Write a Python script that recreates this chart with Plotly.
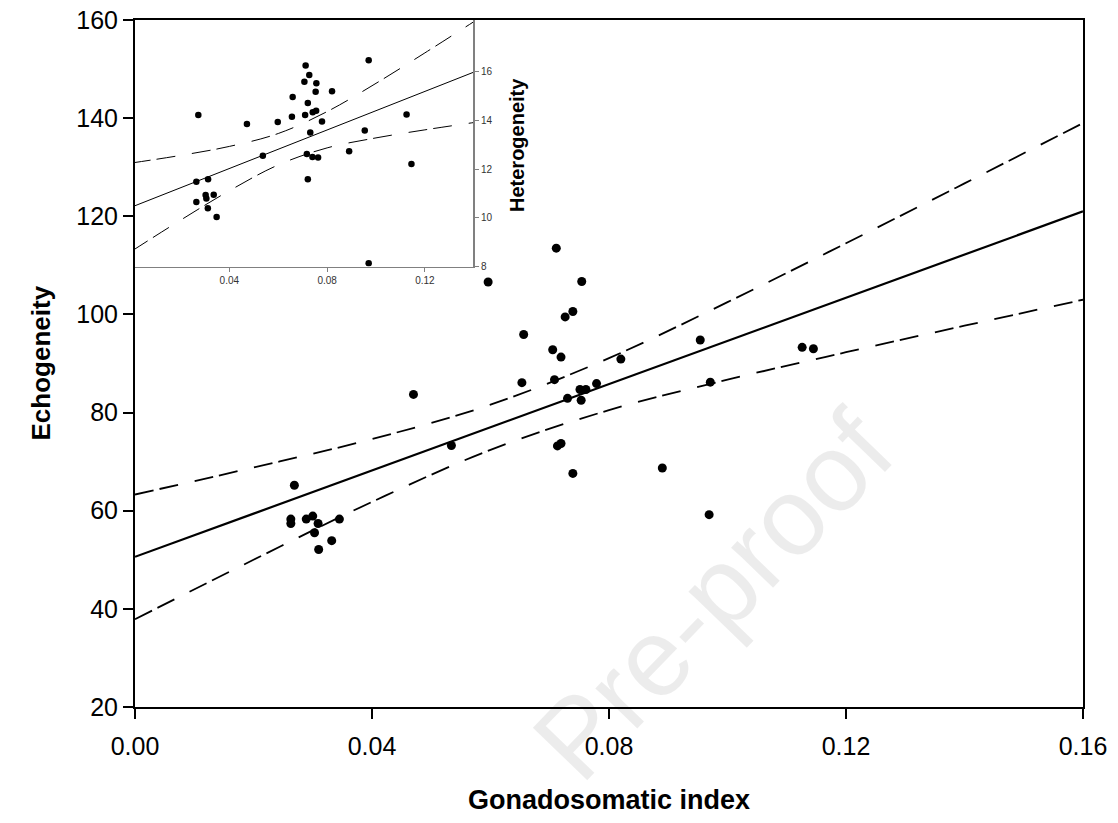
import plotly.graph_objects as go

# ---------------- main panel data ----------------
gsi = [0.0269, 0.0263, 0.0263, 0.0289, 0.0300, 0.0309, 0.0345, 0.0303, 0.0332, 0.0310,
       0.0470, 0.0534, 0.0596, 0.0656, 0.0653, 0.0705, 0.0708, 0.0719, 0.0726, 0.0739,
       0.0754, 0.0730, 0.0751, 0.0761, 0.0779, 0.0753, 0.0713, 0.0719, 0.0739, 0.0820,
       0.0890, 0.0954, 0.0971, 0.0969, 0.1126, 0.1145, 0.0711]
echogeneity = [65.2, 58.3, 57.4, 58.3, 58.9, 57.4, 58.3, 55.5, 53.9, 52.1,
               83.7, 73.3, 106.6, 95.9, 86.1, 92.8, 86.7, 91.3, 99.5, 100.6,
               106.7, 82.9, 84.7, 84.7, 85.9, 82.5, 73.2, 73.7, 67.6, 90.9,
               68.7, 94.8, 86.2, 59.2, 93.3, 93.0, 113.5]

fit_x = [0.0, 0.16]
echo_fit = [50.6, 121.0]
ci_x = [0.0, 0.02, 0.04, 0.06, 0.08, 0.10, 0.12, 0.14, 0.16]
echo_upper = [63.3, 68.8, 74.6, 81.6, 91.1, 102.5, 114.5, 126.7, 139.0]
echo_lower = [37.9, 50.0, 61.8, 72.4, 80.5, 86.7, 92.3, 97.7, 103.0]

# ---------------- inset data ----------------
gsi_inset = [0.0273, 0.0472, 0.0598, 0.0656, 0.0659, 0.0707, 0.0712, 0.0727, 0.0756, 0.0753,
             0.0721, 0.0710, 0.0741, 0.0755, 0.0779, 0.0731, 0.0820, 0.0970, 0.0954, 0.1125,
             0.1145, 0.0890, 0.0717, 0.0740, 0.0763, 0.0721, 0.0537, 0.0265, 0.0313, 0.0303,
             0.0306, 0.0336, 0.0265, 0.0312, 0.0348, 0.0970]
heterogeneity = [14.22, 13.85, 13.93, 14.15, 14.96, 15.59, 16.25, 15.86, 15.52, 15.17,
                 14.71, 14.22, 14.33, 14.39, 13.95, 13.50, 15.19, 16.47, 13.58, 14.24,
                 12.21, 12.73, 12.62, 12.50, 12.47, 11.58, 12.55, 11.48, 11.58, 10.94,
                 10.79, 10.95, 10.65, 10.39, 10.03, 8.13]

het_fit_x = [0.0, 0.14]
het_fit = [10.44, 15.98]
het_ci_x = [0.0, 0.02, 0.04, 0.06, 0.08, 0.10, 0.12, 0.14]
het_upper = [12.25, 12.56, 12.93, 13.46, 14.36, 15.52, 16.77, 18.05]
het_lower = [8.63, 9.90, 11.11, 12.17, 12.87, 13.28, 13.61, 13.91]

main_xticks = [0.0, 0.04, 0.08, 0.12, 0.16]
main_yticks = [20, 40, 60, 80, 100, 120, 140, 160]
inset_xticks = [0.04, 0.08, 0.12]
inset_yticks = [8, 10, 12, 14, 16]

FONT = "Arial, Liberation Sans, sans-serif"
DASH = "19px,6px,19px,17px"

W, H = 1118, 823
L, R, T, B = 135, 35, 20, 116
PW, PH = W - L - R, H - T - B  # 948 x 687

fig = go.Figure()

# main panel
fig.add_trace(go.Scatter(x=ci_x, y=echo_upper, mode="lines", line_shape="spline",
                         line=dict(color="black", width=1.8, dash=DASH), showlegend=False,
                         xaxis="x", yaxis="y"))
fig.add_trace(go.Scatter(x=ci_x, y=echo_lower, mode="lines", line_shape="spline",
                         line=dict(color="black", width=1.8, dash=DASH), showlegend=False,
                         xaxis="x", yaxis="y"))
fig.add_trace(go.Scatter(x=fit_x, y=echo_fit, mode="lines",
                         line=dict(color="black", width=2.2), showlegend=False,
                         xaxis="x", yaxis="y"))
fig.add_trace(go.Scatter(x=gsi, y=echogeneity, mode="markers",
                         marker=dict(color="black", size=9), showlegend=False,
                         xaxis="x", yaxis="y"))

# inset
fig.add_trace(go.Scatter(x=het_ci_x, y=het_upper, mode="lines", line_shape="spline",
                         line=dict(color="black", width=1, dash=DASH), showlegend=False,
                         xaxis="x2", yaxis="y2"))
fig.add_trace(go.Scatter(x=het_ci_x, y=het_lower, mode="lines", line_shape="spline",
                         line=dict(color="black", width=1, dash=DASH), showlegend=False,
                         xaxis="x2", yaxis="y2"))
fig.add_trace(go.Scatter(x=het_fit_x, y=het_fit, mode="lines",
                         line=dict(color="black", width=1), showlegend=False,
                         xaxis="x2", yaxis="y2"))
fig.add_trace(go.Scatter(x=gsi_inset, y=heterogeneity, mode="markers",
                         marker=dict(color="black", size=6.5), showlegend=False,
                         xaxis="x2", yaxis="y2"))


def px_x(px):
    return (px - 135) / PW


def px_y(py):
    return 1 - (py - 20) / PH


inset_bottom = px_y(266.5)
inset_right = px_x(473.3)

fig.update_layout(
    width=W, height=H,
    margin=dict(l=L, r=R, t=T, b=B, autoexpand=False),
    paper_bgcolor="white", plot_bgcolor="white",
    font=dict(family=FONT, color="black"),
    xaxis=dict(domain=[0, 1], range=[0, 0.16], tickvals=main_xticks, tickformat=".2f",
               showline=True, linecolor="black", linewidth=2, mirror=True,
               ticks="outside", ticklen=10, tickwidth=1.5, tickcolor="black",
               tickfont=dict(size=25, family=FONT), showgrid=False, zeroline=False,
               ticklabelstandoff=6, automargin=False, ticklabeloverflow="allow"),
    yaxis=dict(domain=[0, 1], range=[20, 160], tickvals=main_yticks,
               showline=True, linecolor="black", linewidth=2, mirror=True,
               ticks="outside", ticklen=10, tickwidth=1.5, tickcolor="black",
               tickfont=dict(size=25, family=FONT), showgrid=False, zeroline=False,
               automargin=False, ticklabeloverflow="allow"),
    xaxis2=dict(domain=[0, inset_right], anchor="y2", range=[0.0014, 0.1398],
                tickvals=inset_xticks, ticktext=["0.04", "0.08", "0.12"],
                showline=True, linecolor="#808080", linewidth=1.2,
                ticks="outside", ticklen=4, tickwidth=1, tickcolor="#808080",
                tickfont=dict(size=10, color="#333333", family=FONT),
                showgrid=False, zeroline=False, automargin=False),
    yaxis2=dict(domain=[inset_bottom, 1], anchor="x2", side="right",
                range=[8, 18.12], tickvals=inset_yticks,
                showline=True, linecolor="#808080", linewidth=1.5,
                ticks="outside", ticklen=4, tickwidth=1, tickcolor="#808080",
                tickfont=dict(size=10, color="#333333", family=FONT),
                showgrid=False, zeroline=False, automargin=False),
    annotations=[
        dict(text="Pre-proof", xref="paper", yref="paper",
             x=px_x(712), y=px_y(595), xanchor="center", yanchor="middle",
             textangle=-46, showarrow=False,
             font=dict(size=110, family=FONT, color="rgba(0,0,0,0.075)")),
        dict(text="<b>Gonadosomatic index</b>", xref="paper", yref="paper",
             x=0.5, y=px_y(800), xanchor="center", yanchor="middle",
             showarrow=False, font=dict(size=27, family=FONT)),
        dict(text="<b>Echogeneity</b>", xref="paper", yref="paper",
             x=px_x(40), y=0.5, xanchor="center", yanchor="middle",
             textangle=-90, showarrow=False, font=dict(size=26, family=FONT)),
        dict(text="<b>Heterogeneity</b>", xref="paper", yref="paper",
             x=px_x(517), y=px_y(145), xanchor="center", yanchor="middle",
             textangle=-90, showarrow=False, font=dict(size=20, family=FONT)),
    ],
)

# remove the page's default body margin so the figure fills the window exactly
fig.write_html("out.html", config={"displayModeBar": False},
               post_script="document.body.style.margin='0px';")
